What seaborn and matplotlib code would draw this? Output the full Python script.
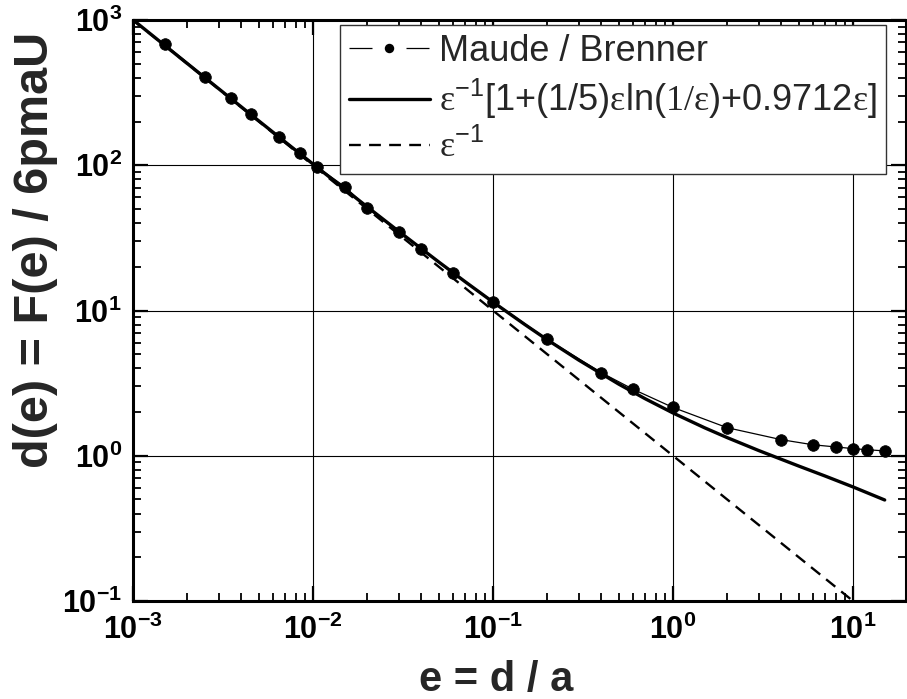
import matplotlib
matplotlib.use("Agg")
import matplotlib.pyplot as plt
from matplotlib.lines import Line2D
from matplotlib.ticker import LogLocator, NullFormatter
import seaborn as sns
import pandas as pd

# ---- data ----
maude_x = [0.0015, 0.0025, 0.0035, 0.0045, 0.0065, 0.0085, 0.0105, 0.015, 0.02,
           0.03, 0.04, 0.06, 0.1, 0.2, 0.4, 0.6, 1, 2, 4, 6, 8, 10, 12, 15]
maude_y = [681, 407, 289, 225, 157, 121, 97.8, 71.3, 51.1, 34.6, 26.6, 18.1,
           11.5, 6.34, 3.73, 2.87, 2.15, 1.56, 1.29, 1.19, 1.15, 1.12, 1.10, 1.08]

asym_x = [0.001, 0.0015, 0.002, 0.003, 0.005, 0.007, 0.01, 0.015, 0.02, 0.03,
          0.05, 0.07, 0.1, 0.15, 0.2, 0.3, 0.5, 0.7, 1, 1.5, 2, 3, 5, 7, 10, 15]
asym_y = [1002.4, 668.9, 502.2, 335.5, 202.0, 144.8, 101.9, 68.48, 51.75, 35.01,
          21.57, 15.79, 11.43, 8.02, 6.29, 4.55, 3.11, 2.47, 1.97, 1.557, 1.333,
          1.085, 0.849, 0.725, 0.610, 0.496]

inv_x = [0.001, 0.01, 0.1, 1, 10]
inv_y = [1000, 100, 10, 1, 0.1]

x_ticks = [1e-3, 1e-2, 1e-1, 1e0, 1e1]
x_tick_labels = [r"$\mathbf{10^{-3}}$", r"$\mathbf{10^{-2}}$", r"$\mathbf{10^{-1}}$",
                 r"$\mathbf{10^{0}}$", r"$\mathbf{10^{1}}$"]
y_ticks = [1e-1, 1e0, 1e1, 1e2, 1e3]
y_tick_labels = [r"$\mathbf{10^{-1}}$", r"$\mathbf{10^{0}}$", r"$\mathbf{10^{1}}$",
                 r"$\mathbf{10^{2}}$", r"$\mathbf{10^{3}}$"]

legend_labels = ["Maude / Brenner",
                 r"$\mathrm{ε}^{\mathsf{-1}}$[1+(1/5)$\mathrm{ε}$ln($\mathrm{1/ε}$)+0.9712$\mathrm{ε}$]",
                 r"$\mathrm{ε}^{\mathsf{-1}}$"]

# ---- style ----
sns.set_style("ticks")
plt.rcParams["font.family"] = ["Liberation Sans", "DejaVu Sans"]
plt.rcParams["mathtext.fontset"] = "custom"
plt.rcParams["mathtext.rm"] = "Liberation Serif"
plt.rcParams["mathtext.sf"] = "Liberation Sans"
plt.rcParams["mathtext.bf"] = "Liberation Sans:bold"
plt.rcParams["mathtext.it"] = "Liberation Sans:italic"

fig = plt.figure(figsize=(9.07, 6.99), dpi=100)
ax = fig.add_axes([133 / 907, 1 - 601 / 699, 773 / 907, 581 / 699])

df_m = pd.DataFrame({"x": maude_x, "y": maude_y})
df_a = pd.DataFrame({"x": asym_x, "y": asym_y})
df_i = pd.DataFrame({"x": inv_x, "y": inv_y})

sns.lineplot(data=df_i, x="x", y="y", ax=ax, color="black", lw=1.7,
             linestyle=(0, (5.0, 3.2)), estimator=None, sort=False, zorder=3)
sns.lineplot(data=df_a, x="x", y="y", ax=ax, color="black", lw=2.4,
             estimator=None, sort=False, zorder=4)
sns.lineplot(data=df_m, x="x", y="y", ax=ax, color="black", lw=0.9,
             marker="o", markersize=8.4, markeredgecolor="black",
             markerfacecolor="black", markeredgewidth=0.5,
             estimator=None, sort=False, zorder=5)

ax.set_xscale("log")
ax.set_yscale("log")
ax.set_xlim(1e-3, 10 ** (1 + 53 / 180))
ax.set_ylim(0.1, 1000)

ax.set_xticks(x_ticks, x_tick_labels)
ax.set_yticks(y_ticks, y_tick_labels)
ax.xaxis.set_minor_locator(LogLocator(base=10, subs=range(2, 10), numticks=20))
ax.yaxis.set_minor_locator(LogLocator(base=10, subs=range(2, 10), numticks=20))
ax.xaxis.set_minor_formatter(NullFormatter())
ax.yaxis.set_minor_formatter(NullFormatter())

ax.tick_params(which="both", direction="in", top=True, right=True, colors="black")
ax.tick_params(which="major", length=10.5, width=1.6, labelsize=22)
ax.tick_params(which="minor", length=5.5, width=1.3)
ax.tick_params(axis="x", which="major", pad=10)
ax.tick_params(axis="y", which="major", pad=8)

for s in ax.spines.values():
    s.set_linewidth(2.2)
    s.set_color("black")

ax.grid(True, which="major", color="black", lw=0.8)
ax.set_axisbelow(True)

ax.set_xlabel("e = d / a", fontsize=30, fontweight="bold")
ax.set_ylabel("d(e) = F(e) / 6pmaU", fontsize=35, fontweight="bold")
ax.xaxis.set_label_coords(0.47, -0.102)
ax.yaxis.set_label_coords(-0.097, 0.604)

handles = [
    Line2D([], [], color="black", lw=0.9, linestyle=(0, (18.4, 27.2)),
           marker="o", markersize=6.8, markeredgewidth=0),
    Line2D([], [], color="black", lw=2.4),
    Line2D([], [], color="black", lw=1.7, linestyle=(0, (5.0, 3.5))),
]
leg = ax.legend(handles, legend_labels, loc="upper right",
                bbox_to_anchor=(0.974, 0.9914), borderaxespad=0,
                fontsize=26, frameon=True, fancybox=False, shadow=False,
                framealpha=1, edgecolor="#333333", handlelength=2.25,
                handletextpad=0.25, labelspacing=0.22, borderpad=0.25,
                numpoints=1)
leg.get_frame().set_linewidth(1.0)
leg.set_zorder(10)

fig.savefig("out.png", dpi=100)
